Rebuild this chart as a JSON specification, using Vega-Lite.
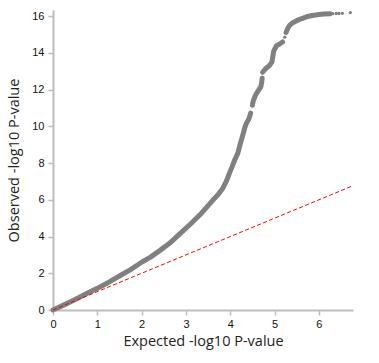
{
  "$schema": "https://vega.github.io/schema/vega-lite/v6.json",
  "width": 300,
  "height": 300,
  "autosize": {"type": "none"},
  "padding": {"left": 53, "top": 10, "right": 26, "bottom": 53},
  "config": {
    "view": {"stroke": null},
    "axis": {
      "grid": false,
      "domainColor": "#bdbdbd",
      "domainWidth": 2,
      "tickColor": "#bdbdbd",
      "tickWidth": 1.5,
      "tickSize": 5,
      "labelFont": "Liberation Sans",
      "labelFontSize": 11,
      "labelColor": "#111",
      "labelPadding": 3,
      "labelFlush": false,
      "titleFont": "Open Sans",
      "titleFontSize": 14.5,
      "titleFontWeight": "normal",
      "titleColor": "#222"
    }
  },
  "datasets": {
    "band": [
      {"seg": 1, "x": 0, "y": 0},
      {"seg": 1, "x": 0.25, "y": 0.28},
      {"seg": 1, "x": 0.5, "y": 0.57},
      {"seg": 1, "x": 0.75, "y": 0.88},
      {"seg": 1, "x": 1.0, "y": 1.18},
      {"seg": 1, "x": 1.25, "y": 1.5},
      {"seg": 1, "x": 1.5, "y": 1.85},
      {"seg": 1, "x": 1.75, "y": 2.2},
      {"seg": 1, "x": 2.0, "y": 2.6},
      {"seg": 1, "x": 2.2, "y": 2.88},
      {"seg": 1, "x": 2.4, "y": 3.22},
      {"seg": 1, "x": 2.63, "y": 3.63},
      {"seg": 1, "x": 2.86, "y": 4.15},
      {"seg": 1, "x": 3.08, "y": 4.63},
      {"seg": 1, "x": 3.31, "y": 5.17},
      {"seg": 1, "x": 3.45, "y": 5.55},
      {"seg": 1, "x": 3.61, "y": 5.99},
      {"seg": 1, "x": 3.73, "y": 6.3},
      {"seg": 1, "x": 3.83, "y": 6.62},
      {"seg": 1, "x": 3.91, "y": 7.0},
      {"seg": 1, "x": 3.98, "y": 7.44},
      {"seg": 1, "x": 4.05, "y": 7.85},
      {"seg": 1, "x": 4.1, "y": 8.17},
      {"seg": 1, "x": 4.17, "y": 8.53},
      {"seg": 1, "x": 4.22, "y": 9.0},
      {"seg": 1, "x": 4.28, "y": 9.5},
      {"seg": 1, "x": 4.33, "y": 9.95},
      {"seg": 1, "x": 4.37, "y": 10.2},
      {"seg": 1, "x": 4.42, "y": 10.4},
      {"seg": 1, "x": 4.46, "y": 10.72},
      {"seg": 2, "x": 4.5, "y": 11.15},
      {"seg": 2, "x": 4.52, "y": 11.4},
      {"seg": 2, "x": 4.57, "y": 11.7},
      {"seg": 2, "x": 4.64, "y": 11.98},
      {"seg": 2, "x": 4.69, "y": 12.16},
      {"seg": 2, "x": 4.71, "y": 12.4},
      {"seg": 2, "x": 4.72, "y": 12.62},
      {"seg": 3, "x": 4.73, "y": 12.95},
      {"seg": 3, "x": 4.8, "y": 13.15},
      {"seg": 3, "x": 4.88, "y": 13.3},
      {"seg": 3, "x": 4.94, "y": 13.5},
      {"seg": 3, "x": 4.96, "y": 13.8},
      {"seg": 3, "x": 4.98, "y": 14.1},
      {"seg": 3, "x": 5.04, "y": 14.38},
      {"seg": 3, "x": 5.12, "y": 14.5},
      {"seg": 3, "x": 5.18, "y": 14.6},
      {"seg": 4, "x": 5.26, "y": 15.12},
      {"seg": 4, "x": 5.3, "y": 15.35},
      {"seg": 4, "x": 5.34, "y": 15.5},
      {"seg": 4, "x": 5.41, "y": 15.65},
      {"seg": 4, "x": 5.5, "y": 15.76},
      {"seg": 4, "x": 5.6, "y": 15.86},
      {"seg": 4, "x": 5.72, "y": 15.97},
      {"seg": 4, "x": 5.85, "y": 16.04},
      {"seg": 4, "x": 6.0, "y": 16.09},
      {"seg": 4, "x": 6.12, "y": 16.12},
      {"seg": 4, "x": 6.25, "y": 16.14}
    ],
    "dots": [
      {"x": 5.23, "y": 14.86},
      {"x": 6.31, "y": 16.14},
      {"x": 6.39, "y": 16.15},
      {"x": 6.45, "y": 16.15},
      {"x": 6.53, "y": 16.16},
      {"x": 6.71, "y": 16.2}
    ],
    "diag": [
      {"x": 0, "y": 0},
      {"x": 6.77, "y": 6.77}
    ]
  },
  "encoding": {
    "x": {"field": "x", "type": "quantitative", "scale": {"domain": [0, 6.77], "nice": false}, "axis": {"title": "Expected -log10 P-value", "values": [0, 1, 2, 3, 4, 5, 6], "labelOverlap": false, "titlePadding": 5}},
    "y": {"field": "y", "type": "quantitative", "scale": {"domain": [0, 16.34], "nice": false}, "axis": {"title": "Observed -log10 P-value", "values": [0, 2, 4, 6, 8, 10, 12, 14, 16], "labelOverlap": false, "labelPadding": 4, "titlePadding": 10}}
  },
  "layer": [
    {
      "data": {"name": "band"},
      "mark": {"type": "line", "color": "#808080", "strokeWidth": 5, "strokeCap": "round", "strokeJoin": "round"},
      "encoding": {
        "detail": {"field": "seg"},
        "order": {"field": "y", "type": "quantitative"}
      }
    },
    {
      "data": {"name": "dots"},
      "mark": {"type": "circle", "color": "#808080", "opacity": 1, "size": 11},
      "encoding": {}
    },
    {
      "data": {"name": "diag"},
      "mark": {"type": "line", "color": "red", "strokeWidth": 1, "strokeDash": [4, 2.5]},
      "encoding": {}
    }
  ]
}
